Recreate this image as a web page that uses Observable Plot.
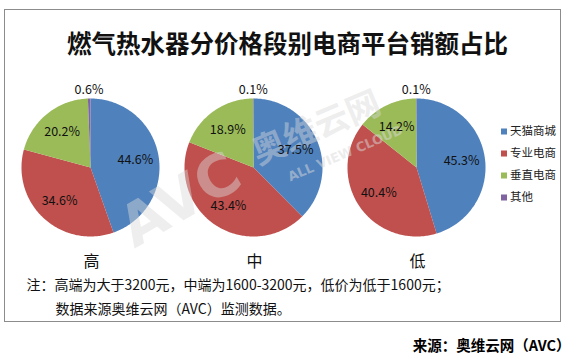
<!DOCTYPE html>
<html>
<head>
<meta charset="utf-8">
<script src="https://cdn.jsdelivr.net/npm/d3@7"></script>
<script src="https://cdn.jsdelivr.net/npm/@observablehq/plot@0.6"></script>
<style>
  html, body { margin: 0; padding: 0; background: #fff; }
</style>
</head>
<body>
<div id="chart"></div>
<script>
// ---- data ----
const title = "燃气热水器分价格段别电商平台销额占比";
const categories = ["天猫商城", "专业电商", "垂直电商", "其他"];
const colors = ["#4F81BD", "#C0504D", "#9BBB59", "#8064A2"];
const pieNames = ["高", "中", "低"];
const highValues = [44.6, 34.6, 20.2, 0.6];
const midValues = [37.5, 43.4, 18.9, 0.1];
const lowValues = [45.3, 40.4, 14.2, 0.1];
const noteLine1 = "注：高端为大于3200元，中端为1600-3200元，低价为低于1600元；";
const noteLine2 = "数据来源奥维云网（AVC）监测数据。";
const sourceText = "来源：奥维云网（AVC）";

// ---- layout ----
const W = 573, H = 358;
const centersX = [90, 253, 416];
const centerY = 167;
const R = 69;
const font = "'Noto Sans CJK SC', 'Noto Sans', sans-serif";

const series = [highValues, midValues, lowValues];

// build slice polygons and label positions
const slicePts = [];
const labels = [];
series.forEach((vals, pi) => {
  const total = d3.sum(vals);
  let start = 0;
  vals.forEach((v, ci) => {
    const a0 = start / total * 2 * Math.PI;
    const a1 = (start + v) / total * 2 * Math.PI;
    start += v;
    const key = pi + "-" + ci;
    const cx = centersX[pi];
    slicePts.push({key, cat: categories[ci], x: cx, y: centerY});
    const n = Math.max(2, Math.ceil((a1 - a0) / (Math.PI / 180)));
    for (let k = 0; k <= n; k++) {
      const a = a0 + (a1 - a0) * k / n;
      slicePts.push({key, cat: categories[ci], x: cx + R * Math.sin(a), y: centerY - R * Math.cos(a)});
    }
    slicePts.push({key, cat: categories[ci], x: cx, y: centerY});
    const am = (a0 + a1) / 2;
    const small = v / total < 0.03;
    const d = small ? R + 9 : R * 0.66;
    labels.push({text: v.toFixed(1) + "%", x: cx + d * Math.sin(am), y: centerY - d * Math.cos(am)});
  });
});

const pieTitles = pieNames.map((t, i) => ({text: t, x: centersX[i] + 1, y: 261}));
const legendRows = categories.map((c, i) => ({cat: c, x: 503.5, y: 131 + i * 22}));

const chart = Plot.plot({
  width: W,
  height: H,
  margin: 0,
  style: {background: "#fff", overflow: "visible"},
  x: {domain: [0, W], range: [0, W], axis: null},
  y: {domain: [0, H], range: [0, H], axis: null},
  color: {domain: categories, range: colors},
  marks: [
    // outer frame
    Plot.rect([{x1: 4.5, x2: 560.5, y1: 9.5, y2: 321.5}], {x1: "x1", x2: "x2", y1: "y1", y2: "y2", fill: "none", stroke: "#8c8c8c", strokeWidth: 1}),
    // title
    Plot.text([title], {x: () => 287, y: () => 45, text: d => d, fontFamily: font, fontWeight: 700, fontSize: 24.5, fill: "#111"}),
    // pies
    Plot.line(slicePts, {x: "x", y: "y", z: "key", fill: "cat", stroke: "none", curve: "linear"}),
    // watermark
    Plot.text(["AVC"], {x: () => 180, y: () => 200, text: d => d, rotate: -30, fontFamily: "DejaVu Sans", fontWeight: 700, fontSize: 58, fill: "#d9d9d9", fillOpacity: 0.45}),
    Plot.text(["奥维云网"], {x: () => 316, y: () => 128, text: d => d, rotate: -23, fontFamily: font, fontWeight: 700, fontSize: 34, fill: "#d9d9d9", fillOpacity: 0.45}),
    Plot.text(["ALL VIEW CLOUD"], {x: () => 345, y: () => 153, text: d => d, rotate: -23, fontFamily: "DejaVu Sans", fontWeight: 700, fontSize: 13, fill: "#d9d9d9", fillOpacity: 0.5}),
    // slice labels
    Plot.text(labels, {x: "x", y: "y", text: "text", fontFamily: font, fontSize: 12.5, fill: "#111"}),
    // pie names
    Plot.text(pieTitles, {x: "x", y: "y", text: "text", fontFamily: font, fontSize: 16, fill: "#111"}),
    // legend
    Plot.dot(legendRows, {x: "x", y: "y", fill: "cat", symbol: "square", r: 3.4, stroke: "none"}),
    Plot.text(legendRows, {x: d => d.x + 6, y: "y", text: "cat", textAnchor: "start", fontFamily: font, fontSize: 11.5, fill: "#222"}),
    // notes
    Plot.text([noteLine1], {x: () => 26, y: () => 285, text: d => d, textAnchor: "start", fontFamily: font, fontSize: 14, fill: "#111"}),
    Plot.text([noteLine2], {x: () => 55, y: () => 309, text: d => d, textAnchor: "start", fontFamily: font, fontSize: 14, fill: "#111"}),
    // source
    Plot.text([sourceText], {x: () => 570, y: () => 346, text: d => d, textAnchor: "end", fontFamily: "'Noto Sans CJK SC', 'DejaVu Serif', serif", fontWeight: 700, fontSize: 14.5, fill: "#000"})
  ]
});
document.getElementById("chart").appendChild(chart);
</script>
</body>
</html>
